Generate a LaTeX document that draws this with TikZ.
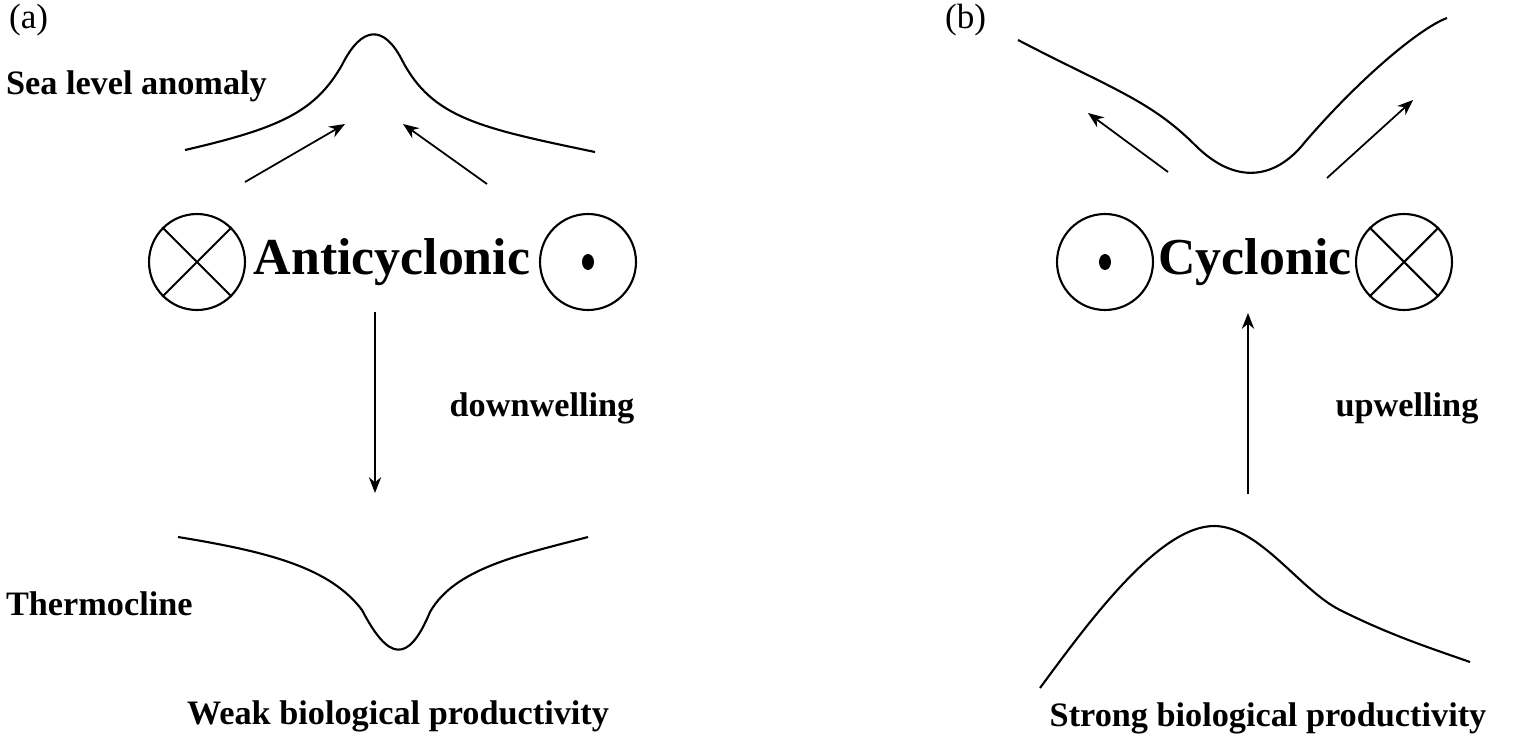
\documentclass[tikz,border=0pt]{standalone}
\usepackage{fontspec}
\setmainfont{Liberation Serif}
\usetikzlibrary{positioning,arrows.meta}
\begin{document}
\begin{tikzpicture}[x=0.02cm,y=-0.02cm,line width=1.2pt,
  lbl/.style = {font=\bfseries\fontsize{19.5}{22}\selectfont},
  big/.style = {font=\bfseries\fontsize{29.5}{34}\selectfont},
  ring/.style = {draw, circle, minimum size=1.92cm, inner sep=0pt},
  arr/.style = {-{Stealth[length=9pt,width=7pt]}, line width=1pt}]
	\useasboundingbox (0,0) rectangle (1535,751);
	% (a) anticyclonic eddy
	\node[anchor=west, inner xsep=0pt, font=\fontsize{20}{22}\selectfont] (pa) at (8,20) {(a)};
	\node[lbl, anchor=west, inner xsep=0pt] (sla) at (5,86) {Sea level anomaly};
	\node[lbl, anchor=west, inner xsep=0pt] (thc) at (5,604) {Thermocline};
	\node[ring] (cx1) at (197,262) {};
	\node[big] (anti) at (392,262) {Anticyclonic};
	\node[ring] (cd1) at (588,262) {};
	\fill (cd1) ellipse (6 and 8);
	\draw (cx1.north east) -- (cx1.south west) (cx1.north west) -- (cx1.south east);
	\draw (185,150) .. controls (280,128) and (315,112) .. (342,65) .. controls (362,25) and (384,25) .. (402,60) .. controls (432,118) and (480,128) .. (595,152);
	\coordinate (a1) at (245,182); \coordinate (a2) at (345,124);
	\coordinate (a3) at (487,184); \coordinate (a4) at (403,124);
	\draw[arr] (a1) -- (a2);
	\draw[arr] (a3) -- (a4);
	\coordinate (d1) at (375,312); \coordinate (d2) at (375,493);
	\draw[arr] (d1) -- (d2);
	\node[lbl] (down) at (542,408) {downwelling};
	\draw (178,537) .. controls (270,552) and (330,568) .. (362,610) .. controls (388,660) and (408,665) .. (430,612) .. controls (455,568) and (520,555) .. (588,537);
	\node[lbl] (weak) at (398,716) {Weak biological productivity};
	% (b) cyclonic eddy
	\node[anchor=west, inner xsep=0pt, font=\fontsize{20}{22}\selectfont] (pb) at (944,20) {(b)};
	\node[ring] (cd2) at (1105,262) {};
	\fill (cd2) ellipse (6 and 8);
	\node[big] (cyc) at (1255,262) {Cyclonic};
	\node[ring] (cx2) at (1404,262) {};
	\draw (cx2.north east) -- (cx2.south west) (cx2.north west) -- (cx2.south east);
	\draw (1018,40) .. controls (1110,88) and (1150,100) .. (1195,145) .. controls (1235,185) and (1275,180) .. (1305,142) .. controls (1360,78) and (1420,28) .. (1447,18);
	\coordinate (b1) at (1168,172); \coordinate (b2) at (1088,113);
	\coordinate (b3) at (1327,178); \coordinate (b4) at (1413,100);
	\draw[arr] (b1) -- (b2);
	\draw[arr] (b3) -- (b4);
	\coordinate (u1) at (1248,494); \coordinate (u2) at (1248,313);
	\draw[arr] (u1) -- (u2);
	\node[lbl] (up) at (1407,408) {upwelling};
	\draw (1040,688) .. controls (1090,620) and (1160,525) .. (1215,526) .. controls (1260,527) and (1300,590) .. (1340,610) .. controls (1390,635) and (1430,648) .. (1470,662);
	\node[lbl] (strong) at (1268,718) {Strong biological productivity};
\end{tikzpicture}
\end{document}
